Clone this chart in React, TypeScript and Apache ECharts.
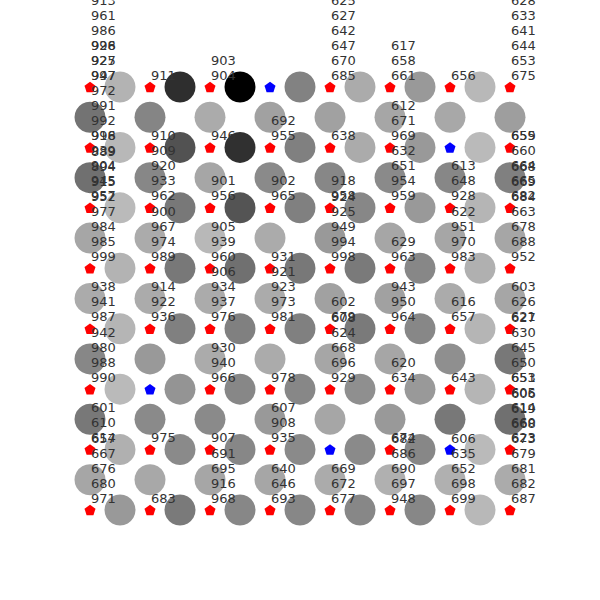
import React, { useEffect, useRef } from "react";
import * as echarts from "echarts";

// Grid of sites: labels listed per site, siteLabels[row][col]; a site without labels is drawn blue
const siteLabels: number[][][] = [
  [[913, 961, 986, 928, 925, 997], [911], [903, 904], [], [625, 627, 642, 647, 670, 685], [617, 658, 661], [656], [628, 633, 641, 644, 653, 675]],
  [[996, 927, 947, 972, 991, 992, 998], [910], [946], [692, 955], [638], [612, 671, 969], [], [655]],
  [[916, 939, 904, 945, 957], [909, 920, 933, 962], [901, 956], [902, 965], [918, 958], [632, 651, 954, 959], [613, 648, 928], [659, 660, 664, 665, 682]],
  [[889, 894, 915, 952, 977, 984, 985, 999], [900, 967, 974, 989], [905, 939, 960], [931], [924, 925, 949, 994, 998], [629, 963], [622, 951, 970, 983], [668, 669, 684, 663, 678, 688, 952]],
  [[938, 941, 987], [914, 922, 936], [906, 934, 937, 976], [921, 923, 973, 981], [602, 679], [943, 950, 964], [616, 657], [603, 626, 621]],
  [[942, 980, 988, 990], [], [930, 940, 966], [978], [608, 624, 668, 696, 929], [620, 634], [643], [627, 630, 645, 650, 651]],
  [[601, 610, 614], [975], [907], [607, 908, 935], [], [674], [], [653, 605, 614, 660, 623]],
  [[657, 667, 676, 680, 971], [683], [691, 695, 916, 968], [640, 646, 693], [669, 672, 677], [682, 686, 690, 697, 948], [606, 635, 652, 698, 699], [606, 619, 668, 673, 679, 681, 682, 687]],
];

// Horizontal bond weights: hBond[row][i] sits between column i and i+1
const hBond: number[][] = [
  [0.30, 0.82, 1.00, 0.49, 0.33, 0.40, 0.28],
  [0.28, 0.68, 0.81, 0.50, 0.33, 0.40, 0.27],
  [0.27, 0.53, 0.67, 0.50, 0.47, 0.40, 0.29],
  [0.30, 0.53, 0.56, 0.53, 0.52, 0.47, 0.31],
  [0.29, 0.50, 0.50, 0.50, 0.52, 0.47, 0.29],
  [0.27, 0.42, 0.47, 0.47, 0.44, 0.40, 0.29],
  [0.31, 0.46, 0.47, 0.46, 0.46, 0.47, 0.27],
  [0.40, 0.52, 0.47, 0.47, 0.47, 0.47, 0.28],
];

// Vertical bond weights: vBond[j][col] sits between row j and j+1
const vBond: number[][] = [
  [0.55, 0.48, 0.33, 0.37, 0.37, 0.35, 0.34, 0.38],
  [0.56, 0.47, 0.35, 0.46, 0.47, 0.46, 0.47, 0.50],
  [0.35, 0.33, 0.28, 0.33, 0.40, 0.35, 0.35, 0.35],
  [0.33, 0.33, 0.33, 0.33, 0.37, 0.37, 0.33, 0.35],
  [0.47, 0.40, 0.33, 0.33, 0.35, 0.35, 0.44, 0.53],
  [0.53, 0.46, 0.46, 0.40, 0.35, 0.40, 0.53, 0.56],
  [0.35, 0.34, 0.35, 0.35, 0.33, 0.31, 0.31, 0.33],
];

const PENTAGON = "path://M0,-10 L9.511,-3.09 L5.878,8.09 L-5.878,8.09 L-9.511,-3.09 Z";

export default function App() {
  const ref = useRef<HTMLDivElement>(null);

  useEffect(() => {
    if (!ref.current) return;
    const chart = echarts.init(ref.current, undefined, { renderer: "svg" });

    const bonds: number[][] = [];
    hBond.forEach((row, r) => row.forEach((v, i) => bonds.push([i + 0.5, r, v])));
    vBond.forEach((row, j) => row.forEach((v, c) => bonds.push([c, j + 0.5, v])));

    const sites: any[] = [];
    siteLabels.forEach((row, r) =>
      row.forEach((labels, c) =>
        sites.push({
          value: [c, r],
          labels,
          itemStyle: { color: labels.length ? "#ff0000" : "#0000ff", opacity: 1 },
        })
      )
    );

    chart.setOption({
      animation: false,
      backgroundColor: "#ffffff",
      grid: { left: 90, right: 90, top: 87, bottom: 90 },
      xAxis: { type: "value", min: 0, max: 7, show: false },
      yAxis: { type: "value", min: 0, max: 7, inverse: true, show: false },
      visualMap: {
        type: "continuous",
        show: false,
        min: 0,
        max: 1,
        dimension: 2,
        seriesIndex: 0,
        inRange: { color: ["#ffffff", "#000000"] },
      },
      series: [
        {
          type: "scatter",
          z: 1,
          clip: false,
          symbol: "circle",
          symbolSize: 31,
          itemStyle: { opacity: 1 },
          data: bonds,
          silent: true,
        },
        {
          type: "scatter",
          z: 3,
          clip: false,
          symbol: PENTAGON,
          symbolSize: [11, 10.5],
          itemStyle: { opacity: 1 },
          data: sites,
          silent: true,
          label: {
            show: true,
            position: [6.5, 0.75],
            align: "left",
            verticalAlign: "bottom",
            fontFamily: "DejaVu Sans",
            fontSize: 13,
            lineHeight: 15,
            color: "#333333",
            opacity: 1,
            formatter: (p: any) => (p.data.labels || []).join("\n"),
          },
          labelLayout: { hideOverlap: false },
        },
      ],
    });

    return () => chart.dispose();
  }, []);

  return (
    <div
      ref={ref}
      style={{ position: "fixed", left: 0, top: 0, width: 600, height: 600 }}
    />
  );
}
